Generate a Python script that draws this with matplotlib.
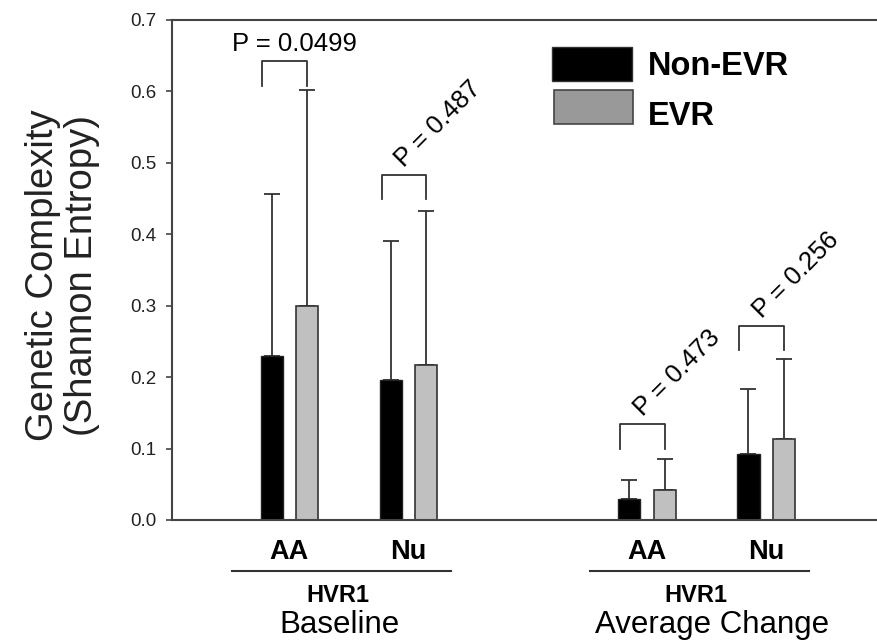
import numpy as np
import matplotlib
matplotlib.use("Agg")
import matplotlib.pyplot as plt
from matplotlib.patches import Rectangle
from matplotlib.transforms import blended_transform_factory

plt.rcParams["font.family"] = ["Liberation Sans", "DejaVu Sans"]

# data
categories = ["AA", "Nu", "AA", "Nu"]
group_names = ["Baseline", "Average Change"]
group_region = "HVR1"
series_names = ["Non-EVR", "EVR"]
non_evr = [0.229, 0.196, 0.029, 0.092]
non_evr_sd = [0.228, 0.194, 0.027, 0.091]
evr = [0.300, 0.217, 0.042, 0.113]
evr_sd = [0.302, 0.216, 0.043, 0.113]
p_labels = ["P = 0.0499", "P = 0.487", "P = 0.473", "P = 0.256"]
bracket_tops = [0.642, 0.483, 0.134, 0.272]
y_ticks = [0.0, 0.1, 0.2, 0.3, 0.4, 0.5, 0.6, 0.7]

W, H = 877, 644
EDGE = "#333333"


def fx(px):
    return px / W


def fy(py):
    return 1 - py / H


fig = plt.figure(figsize=(W / 100, H / 100), dpi=100)
# axes run past the right border of the figure, like the cropped original
ax = fig.add_axes([fx(172), fy(520), (900 - 172) / W, (520 - 20) / H])

x = np.array([0, 1, 3, 4])
off, bw = 0.148, 0.185

ax.bar(x - off, non_evr, bw, color="black", edgecolor="#222222", linewidth=1.0, zorder=2)
ax.bar(x + off, evr, bw, color="#c0c0c0", edgecolor=EDGE, linewidth=1.2, zorder=2)
zeros = np.zeros(len(x))
ax.errorbar(x - off, non_evr, yerr=[zeros, non_evr_sd], fmt="none", ecolor=EDGE,
            elinewidth=1.3, capsize=5.5, capthick=1.3, zorder=1)
ax.errorbar(x + off, evr, yerr=[zeros, evr_sd], fmt="none", ecolor=EDGE,
            elinewidth=1.3, capsize=5.5, capthick=1.3, zorder=1)

ax.set_xlim(-0.984, 5.123)
ax.set_ylim(0, 0.7)
ax.spines["right"].set_visible(False)
for s in ["left", "top", "bottom"]:
    ax.spines[s].set_color("#444444")
    ax.spines[s].set_linewidth(1.5)

ax.set_yticks(y_ticks, [f"{v:.1f}" for v in y_ticks], fontsize=13.5, color="#222222")
ax.tick_params(axis="y", direction="out", length=4.5, width=1.2, pad=7, color="#444444")
ax.set_xticks(x, categories, fontsize=19.5, fontweight="bold")
ax.tick_params(axis="x", length=0, pad=14)

ax.set_ylabel("Genetic Complexity\n(Shannon Entropy)", fontsize=27.5, color="#222222",
              linespacing=1.12)
ax.yaxis.set_label_coords(-0.099, 0.49)

# significance brackets
leg = 0.034
for i, xi in enumerate(x):
    lx, rx, top = xi - 0.225, xi + off, bracket_tops[i]
    ax.plot([lx, lx, rx, rx], [top - leg, top, top, top - leg], color=EDGE, lw=1.3,
            clip_on=False)
    if i == 0:
        ax.text((lx + rx) / 2 + 0.08, top + 0.014, p_labels[i], ha="center",
                va="baseline", fontsize=18.5)
    else:
        ax.text(lx + 0.19, top + 0.01, p_labels[i], rotation=45, rotation_mode="anchor",
                ha="left", va="baseline", fontsize=18.5)

# group labels under the axis
trans = blended_transform_factory(ax.transData, ax.transAxes)
name_offsets = [0.42, 0.55]
for g, start in enumerate([0, 3]):
    ax.plot([start - 0.48, start + 1.36], [-0.102, -0.102], transform=trans, color=EDGE,
            lw=1.5, clip_on=False)
    ax.text(start + 0.41, -0.164, group_region, transform=trans, ha="center",
            va="baseline", fontsize=17, fontweight="bold")
    ax.text(start + name_offsets[g], -0.226, group_names[g], transform=trans,
            ha="center", va="baseline", fontsize=22.5)

# legend drawn by hand in figure pixels
fig.patches.append(Rectangle((fx(552), fy(81)), 80 / W, 34 / H, transform=fig.transFigure,
                             facecolor="black", edgecolor=EDGE, lw=1.0))
fig.patches.append(Rectangle((fx(554), fy(124)), 79 / W, 34 / H, transform=fig.transFigure,
                             facecolor="#999999", edgecolor="#444444", lw=1.2))
fig.text(fx(648), fy(75), series_names[0], fontsize=23.5, fontweight="bold", va="baseline")
fig.text(fx(648), fy(125), series_names[1], fontsize=23.5, fontweight="bold", va="baseline")

fig.savefig("out.png", dpi=100)
